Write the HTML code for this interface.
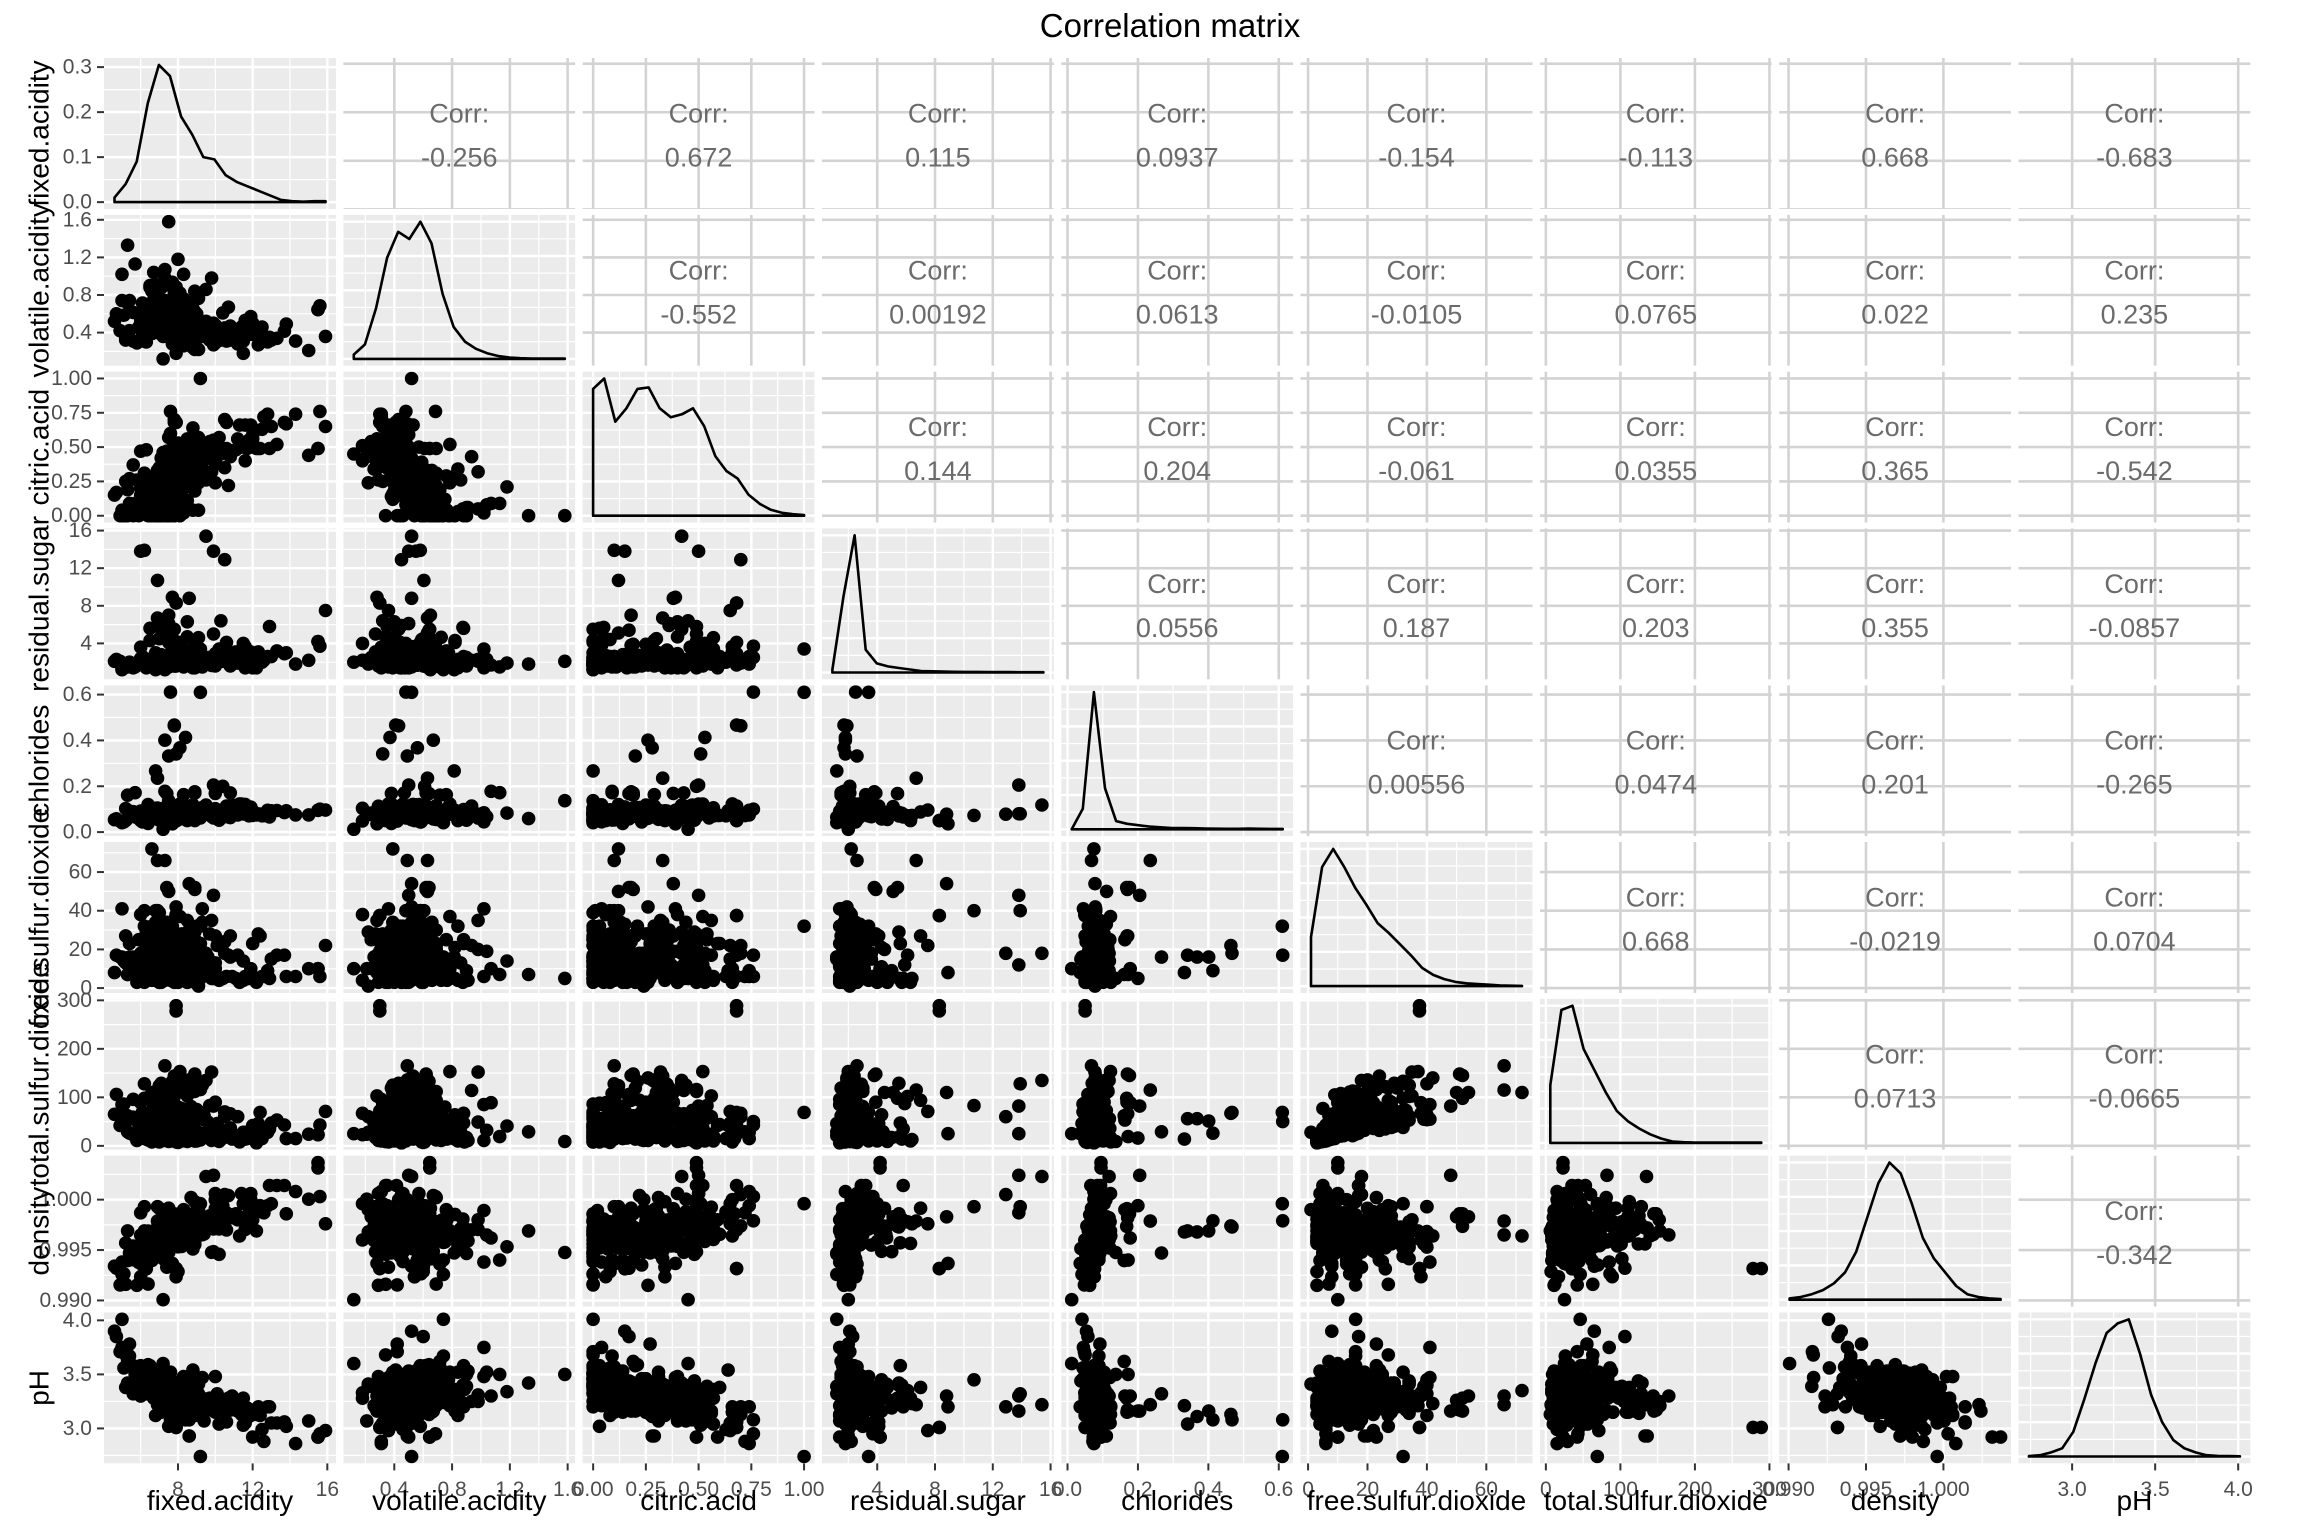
<!DOCTYPE html>
<html><head><meta charset="utf-8"><title>Correlation matrix</title>
<style>html,body{margin:0;padding:0;background:#fff}svg{display:block;font-family:"Liberation Sans",Arial,sans-serif}</style>
</head><body>
<svg id="chart" width="2304" height="1536" viewBox="0 0 2304 1536" xmlns="http://www.w3.org/2000/svg">
<rect x="0" y="0" width="2304" height="1536" fill="#fff"/>
<text x="1170" y="37" font-size="33" text-anchor="middle" fill="#000">Correlation matrix</text>
<g id="panels"></g>
</svg>
<script>
const varNames = ["fixed.acidity","volatile.acidity","citric.acid","residual.sugar","chlorides","free.sulfur.dioxide","total.sulfur.dioxide","density","pH"];
const varMin = [4.6,0.12,0,0.9,0.012,1,6,0.99007,2.74];
const varMax = [15.9,1.58,1,15.5,0.611,72,289,1.00369,4.01];
const tickValues = [[8,12,16],[0.4,0.8,1.2,1.6],[0,0.25,0.5,0.75,1],[4,8,12,16],[0,0.2,0.4,0.6],[0,20,40,60],[0,100,200,300],[0.99,0.995,1.0],[3,3.5,4]];
const tickLabels = [["8","12","16"],["0.4","0.8","1.2","1.6"],["0.00","0.25","0.50","0.75","1.00"],["4","8","12","16"],["0.0","0.2","0.4","0.6"],["0","20","40","60"],["0","100","200","300"],["0.990","0.995","1.000"],["3.0","3.5","4.0"]];
const densityTickValues = [0,0.1,0.2,0.3];
const densityTickLabels = ["0.0","0.1","0.2","0.3"];
const densityCurves = [
 [0.01,0.04,0.09,0.22,0.305,0.28,0.19,0.15,0.10,0.095,0.06,0.045,0.035,0.025,0.015,0.005,0.002,0.001,0.002,0.002],
 [0.03,0.10,0.35,0.70,0.88,0.83,0.95,0.80,0.45,0.22,0.12,0.07,0.04,0.02,0.01,0.005,0.003,0.003,0.002,0.002],
 [0.85,0.92,0.63,0.72,0.85,0.86,0.72,0.66,0.68,0.72,0.60,0.40,0.30,0.25,0.14,0.08,0.04,0.02,0.01,0.005],
 [0.02,0.50,0.90,0.15,0.06,0.04,0.03,0.02,0.01,0.008,0.006,0.005,0.004,0.004,0.003,0.003,0.003,0.002,0.002,0.002],
 [0.0,0.15,1.0,0.30,0.06,0.04,0.03,0.02,0.015,0.01,0.01,0.008,0.006,0.005,0.004,0.004,0.006,0.004,0.003,0.003],
 [0.35,0.85,0.98,0.85,0.70,0.58,0.45,0.38,0.30,0.22,0.13,0.08,0.05,0.03,0.02,0.015,0.01,0.005,0.003,0.002],
 [0.40,0.92,0.95,0.65,0.50,0.35,0.22,0.15,0.10,0.06,0.03,0.01,0.005,0.003,0.002,0.002,0.002,0.002,0.003,0.003],
 [0.01,0.02,0.04,0.07,0.12,0.20,0.35,0.60,0.85,1.0,0.92,0.70,0.45,0.30,0.20,0.10,0.04,0.02,0.01,0.005],
 [0.003,0.01,0.03,0.06,0.18,0.42,0.68,0.90,0.97,1.0,0.75,0.45,0.25,0.12,0.06,0.03,0.01,0.005,0.003,0.002]
];
const corrLabels = [
 ["-0.256","0.672","0.115","0.0937","-0.154","-0.113","0.668","-0.683"],
 ["-0.552","0.00192","0.0613","-0.0105","0.0765","0.022","0.235"],
 ["0.144","0.204","-0.061","0.0355","0.365","-0.542"],
 ["0.0556","0.187","0.203","0.355","-0.0857"],
 ["0.00556","0.0474","0.201","-0.265"],
 ["0.668","-0.0219","0.0704"],
 ["0.0713","-0.0665"],
 ["-0.342"]
];
const wineRows = [
[7.4,0.70,0.00,1.9,0.076,11,34,0.9978,3.51],[7.8,0.88,0.00,2.6,0.098,25,67,0.9968,3.20],[7.8,0.76,0.04,2.3,0.092,15,54,0.9970,3.26],
[11.2,0.28,0.56,1.9,0.075,17,60,0.9980,3.16],[7.4,0.66,0.00,1.8,0.075,13,40,0.9978,3.51],[7.9,0.60,0.06,1.6,0.069,15,59,0.9964,3.30],
[7.3,0.65,0.00,1.2,0.065,15,21,0.9946,3.39],[7.8,0.58,0.02,2.0,0.073,9,18,0.9968,3.36],[7.5,0.50,0.36,6.1,0.071,17,102,0.9978,3.35],
[6.7,0.58,0.08,1.8,0.097,15,65,0.9959,3.28],[5.6,0.615,0.00,1.6,0.089,16,59,0.9943,3.58],[7.8,0.61,0.29,1.6,0.114,9,29,0.9974,3.26],
[8.9,0.62,0.18,3.8,0.176,52,145,0.9986,3.16],[8.9,0.62,0.19,3.9,0.170,51,148,0.9986,3.17],[8.5,0.28,0.56,1.8,0.092,35,103,0.9969,3.30],
[8.1,0.56,0.28,1.7,0.368,16,56,0.9968,3.11],[7.4,0.59,0.08,4.4,0.086,6,29,0.9974,3.38],[7.9,0.32,0.51,1.8,0.341,17,56,0.9969,3.04],
[8.9,0.22,0.48,1.8,0.077,29,60,0.9968,3.39],[7.6,0.39,0.31,2.3,0.082,23,71,0.9982,3.52],[7.9,0.43,0.21,1.6,0.106,10,37,0.9966,3.17],
[8.5,0.49,0.11,2.3,0.084,9,67,0.9968,3.17],[6.9,0.40,0.14,2.4,0.085,21,40,0.9968,3.43],[6.3,0.39,0.16,1.4,0.080,11,23,0.9955,3.34],
[7.6,0.41,0.24,1.8,0.080,4,11,0.9962,3.28],[7.1,0.71,0.00,1.9,0.080,14,35,0.9972,3.47],[7.8,0.645,0.00,2.0,0.082,8,16,0.9964,3.38],
[6.7,0.675,0.07,2.4,0.089,17,82,0.9958,3.35],[6.9,0.685,0.00,2.5,0.105,22,37,0.9966,3.46],[8.3,0.655,0.12,2.3,0.083,15,113,0.9966,3.17],
[6.9,0.605,0.12,10.7,0.073,40,83,0.9993,3.45],[5.2,0.32,0.25,1.8,0.103,13,50,0.9957,3.38],[7.8,0.645,0.00,5.5,0.086,5,18,0.9986,3.40],
[7.8,0.60,0.14,2.4,0.086,3,15,0.9975,3.42],[8.1,0.38,0.28,2.1,0.066,13,30,0.9968,3.23],[5.7,1.13,0.09,1.5,0.172,7,19,0.9940,3.50],
[7.3,0.45,0.36,5.9,0.074,12,87,0.9978,3.33],[8.8,0.61,0.30,2.8,0.088,17,46,0.9976,3.26],[7.5,0.49,0.20,2.6,0.332,8,14,0.9968,3.21],
[8.1,0.66,0.22,2.2,0.069,9,23,0.9968,3.30],[4.6,0.52,0.15,2.1,0.054,8,65,0.9934,3.90],[7.7,0.935,0.43,2.2,0.114,22,114,0.9970,3.25],
[8.7,0.29,0.52,1.6,0.113,12,37,0.9969,3.25],[6.4,0.40,0.23,1.6,0.066,5,12,0.9958,3.34],[5.6,0.31,0.37,1.4,0.074,12,96,0.9954,3.32],
[8.8,0.66,0.26,1.7,0.074,4,23,0.9971,3.15],[6.6,0.52,0.04,2.2,0.069,8,15,0.9956,3.40],[6.6,0.50,0.04,2.1,0.068,6,14,0.9955,3.39],
[8.6,0.38,0.36,3.0,0.081,30,119,0.9970,3.20],[7.6,0.51,0.15,2.8,0.110,33,73,0.9955,3.17],[7.7,0.62,0.04,3.8,0.084,25,45,0.9978,3.34],
[10.2,0.42,0.57,3.4,0.070,4,10,0.9971,3.04],[7.5,0.63,0.12,5.1,0.111,50,110,0.9983,3.26],[7.8,0.59,0.18,2.3,0.076,17,54,0.9975,3.43],
[7.3,0.39,0.31,2.4,0.074,9,46,0.9962,3.41],[8.8,0.40,0.40,2.2,0.079,19,52,0.9980,3.44],[7.7,0.69,0.49,1.8,0.115,20,112,0.9968,3.21],
[7.0,0.735,0.05,2.0,0.081,13,54,0.9966,3.39],[7.2,0.725,0.05,4.65,0.086,4,11,0.9962,3.41],[6.6,0.705,0.07,1.6,0.076,6,15,0.9962,3.44],
[8.0,0.705,0.05,1.9,0.074,8,19,0.9962,3.34],[7.7,0.69,0.22,1.9,0.084,18,94,0.9961,3.31],[8.3,0.675,0.26,2.1,0.084,11,43,0.9976,3.31],
[9.7,0.32,0.54,2.5,0.094,28,83,0.9984,3.28],[8.8,0.41,0.64,2.2,0.093,9,42,0.9986,3.54],[6.8,0.785,0.00,2.4,0.104,14,30,0.9966,3.52],
[6.7,0.75,0.12,2.0,0.086,12,80,0.9958,3.38],[8.3,0.625,0.20,1.5,0.080,27,119,0.9972,3.16],[6.2,0.45,0.20,1.6,0.069,3,15,0.9958,3.41],
[7.8,0.43,0.70,1.9,0.464,22,67,0.9974,3.13],[7.4,0.50,0.47,2.0,0.086,21,73,0.9970,3.36],[7.3,0.67,0.26,1.8,0.401,16,51,0.9969,3.16],
[6.3,0.30,0.48,1.8,0.069,18,61,0.9959,3.44],[6.9,0.55,0.15,2.2,0.076,19,40,0.9961,3.41],[8.6,0.49,0.28,1.9,0.110,20,136,0.9972,2.93],
[7.7,0.49,0.26,1.9,0.062,9,31,0.9966,3.39],[9.3,0.39,0.44,2.1,0.107,34,125,0.9978,3.14],[7.0,0.62,0.08,1.8,0.076,8,24,0.9978,3.48],
[7.9,0.52,0.26,1.9,0.079,42,140,0.9964,3.23],[8.6,0.49,0.29,2.0,0.110,19,133,0.9972,2.93],[5.0,1.02,0.04,1.4,0.045,41,85,0.9938,3.75],
[4.7,0.60,0.17,2.3,0.058,17,106,0.9932,3.85],[6.8,0.775,0.00,3.0,0.102,8,23,0.9965,3.45],[7.0,0.50,0.25,2.0,0.070,3,22,0.9963,3.25],
[7.6,0.90,0.06,2.5,0.079,5,10,0.9967,3.39],[8.1,0.545,0.18,1.9,0.080,13,35,0.9972,3.30],[8.3,0.61,0.30,2.1,0.084,11,50,0.9972,3.40],
[7.8,0.50,0.30,1.9,0.075,8,22,0.9959,3.31],[8.1,0.575,0.22,2.1,0.077,12,65,0.9967,3.29],[7.2,0.49,0.24,2.2,0.070,5,36,0.9960,3.33],
[7.8,0.41,0.68,1.7,0.467,18,69,0.9973,3.08],[6.2,0.63,0.31,1.7,0.088,15,64,0.9969,3.46],[8.0,0.33,0.53,2.5,0.091,18,80,0.9976,3.37],
[8.1,0.785,0.52,2.0,0.122,37,153,0.9969,3.21],[7.8,0.56,0.19,1.8,0.104,12,47,0.9964,3.19],[8.4,0.62,0.09,2.2,0.084,11,108,0.9964,3.15],
[8.4,0.60,0.10,2.2,0.085,14,111,0.9964,3.15],[10.1,0.31,0.44,2.3,0.080,22,46,0.9988,3.32],[9.4,0.40,0.31,2.2,0.090,13,62,0.9966,3.07],
[8.3,0.54,0.28,1.9,0.077,11,40,0.9978,3.39],[7.8,0.56,0.12,2.0,0.082,7,28,0.9970,3.37],[8.8,0.55,0.04,2.2,0.119,14,56,0.9962,3.21],
[7.0,0.69,0.08,1.8,0.097,22,89,0.9959,3.34],[12.8,0.30,0.74,2.6,0.095,9,28,0.9994,3.20],[11.5,0.31,0.51,2.2,0.079,14,28,0.9982,3.03],
[13.3,0.34,0.52,3.2,0.094,17,53,1.0014,3.05],[12.0,0.50,0.59,1.4,0.073,23,42,0.9980,2.92],[15.9,0.36,0.65,7.5,0.096,22,71,0.9976,2.98],
[15.6,0.685,0.76,3.7,0.100,6,43,1.0003,2.95],[15.5,0.645,0.49,4.2,0.095,10,23,1.00315,2.92],[15.0,0.21,0.44,2.2,0.075,10,24,1.00005,3.07],
[14.3,0.31,0.74,1.8,0.075,6,15,1.0008,2.86],[13.7,0.415,0.68,2.9,0.085,17,43,1.0014,3.06],[12.5,0.46,0.63,2.0,0.071,6,15,0.9988,2.99],
[11.6,0.53,0.66,3.65,0.121,6,14,0.9978,3.05],[10.4,0.61,0.49,2.1,0.200,5,16,0.9994,3.16],[12.9,0.35,0.49,5.8,0.066,5,35,1.0014,3.20],
[10.8,0.32,0.44,1.6,0.063,16,37,0.9985,3.22],[11.9,0.57,0.50,2.6,0.082,6,32,1.0006,3.12],[12.4,0.35,0.49,2.6,0.079,27,69,0.9994,3.12],
[10.6,0.44,0.68,4.1,0.114,6,24,0.9970,3.06],[11.1,0.35,0.48,3.1,0.090,5,21,0.9986,3.17],[9.9,0.35,0.55,2.1,0.062,5,14,0.9971,3.26],
[10.0,0.38,0.38,1.6,0.169,27,90,0.9991,3.15],[10.3,0.32,0.45,6.4,0.073,5,13,0.9976,3.23],[9.2,0.52,1.00,3.4,0.610,32,69,0.9996,2.74],
[11.3,0.36,0.66,2.4,0.123,3,8,0.9964,3.20],[12.6,0.31,0.72,2.2,0.072,6,29,0.9987,2.88],[9.1,0.765,0.04,1.6,0.078,4,14,0.9980,3.29],
[7.9,0.30,0.68,8.3,0.050,37.5,278,0.99316,3.01],[7.9,0.30,0.68,8.3,0.050,37.5,289,0.99316,3.01],[5.4,0.74,0.09,1.7,0.089,16,26,0.99402,3.67],
[5.1,0.585,0.00,1.7,0.044,14,86,0.99264,3.56],[5.3,0.715,0.19,1.5,0.161,7,62,0.99395,3.62],[4.9,0.42,0.00,2.1,0.048,16,42,0.99154,3.71],
[5.0,0.74,0.00,1.2,0.041,16,46,0.99258,4.01],[5.2,0.34,0.00,1.8,0.050,27,63,0.9916,3.68],[6.0,0.50,0.04,2.2,0.092,13,26,0.99647,3.46],
[5.9,0.46,0.00,1.9,0.077,25,44,0.99385,3.50],[6.1,0.40,0.16,1.8,0.069,11,25,0.9955,3.42],[5.3,1.33,0.00,1.8,0.059,7,29,0.9969,3.42],
[7.5,1.58,0.00,2.1,0.137,5,9,0.99476,3.50],[6.7,1.04,0.08,2.3,0.067,19,32,0.99648,3.52],[8.0,1.18,0.21,1.9,0.083,14,41,0.99532,3.34],
[7.3,1.07,0.09,1.7,0.178,10,89,0.99620,3.30],[7.1,0.59,0.00,2.2,0.078,26,44,0.99522,3.42],[8.3,1.02,0.02,3.4,0.084,6,11,0.99892,3.48],
[6.6,0.61,0.00,1.6,0.069,4,8,0.99396,3.33],[11.5,0.18,0.51,4.0,0.104,4,23,0.9996,3.28],[9.8,0.98,0.32,2.3,0.078,35,152,0.9980,3.25],
[7.9,0.35,0.46,3.6,0.078,15,37,0.9973,3.35],[6.9,0.63,0.33,6.7,0.235,66,115,0.99787,3.22],[7.2,0.38,0.31,2.0,0.056,15,29,0.99472,3.23],
[6.8,0.48,0.08,1.8,0.074,40,64,0.99529,3.12],[7.5,0.38,0.57,2.3,0.106,5,12,0.99605,3.36],[6.8,0.67,0.00,1.9,0.080,22,39,0.99701,3.40],
[7.0,0.56,0.17,1.7,0.065,15,24,0.99514,3.44],[7.6,0.35,0.60,2.6,0.073,23,44,0.99656,3.38],[7.1,0.46,0.20,1.9,0.077,28,54,0.9956,3.37],
[6.6,0.84,0.03,2.3,0.059,32,48,0.9952,3.52],[7.4,0.36,0.34,1.8,0.075,18,38,0.9933,3.38],[6.0,0.58,0.20,2.4,0.075,15,50,0.99467,3.58],
[6.8,0.91,0.06,2.0,0.060,4,11,0.99592,3.53],[7.1,0.53,0.07,1.7,0.071,15,24,0.9951,3.29],[8.0,0.45,0.23,2.2,0.094,16,29,0.9962,3.21],
[6.4,0.57,0.12,2.3,0.120,25,36,0.99519,3.47],[6.8,0.62,0.08,1.9,0.068,28,38,0.99651,3.42],[6.4,0.64,0.21,1.8,0.081,14,31,0.99689,3.59],
[7.2,0.62,0.06,2.7,0.077,15,85,0.99746,3.51],[8.1,0.82,0.00,4.1,0.095,5,14,0.99854,3.36],[6.2,0.56,0.09,1.7,0.053,24,32,0.99402,3.54],
[7.0,0.60,0.30,4.5,0.068,20,110,0.99914,3.30],[7.5,0.52,0.11,1.5,0.079,11,39,0.99680,3.42],[8.9,0.84,0.34,1.4,0.050,4,10,0.99554,3.12],
[6.4,0.69,0.00,1.65,0.055,7,12,0.99162,3.47],[5.9,0.61,0.08,2.1,0.071,16,24,0.99376,3.56],[6.3,0.51,0.13,2.3,0.076,29,40,0.99574,3.42],
[7.4,0.64,0.17,5.4,0.168,52,98,0.99736,3.28],[11.6,0.475,0.40,1.4,0.091,6,28,0.99704,3.07],[9.1,0.40,0.57,4.6,0.080,6,20,0.99652,3.28],
[10.7,0.67,0.22,2.7,0.107,17,34,1.0004,3.28],[8.9,0.29,0.35,1.9,0.067,25,57,0.9970,3.18],[12.3,0.27,0.49,3.1,0.079,28,46,0.9993,3.20],
[10.9,0.39,0.47,1.8,0.118,6,14,0.9982,3.30],[12.0,0.38,0.56,2.1,0.093,6,24,0.99925,3.14],[10.2,0.34,0.48,2.1,0.052,5,9,0.99458,3.20],
[9.6,0.38,0.31,2.5,0.096,16,49,0.9982,3.19],[8.8,0.30,0.38,2.3,0.060,19,72,0.99543,3.39],[8.2,0.26,0.34,2.5,0.073,16,47,0.99594,3.40],
[7.8,0.50,0.17,1.6,0.082,21,102,0.9960,3.39],[10.5,0.43,0.35,3.3,0.092,24,70,0.99798,3.21],[9.0,0.785,0.24,1.7,0.078,10,21,0.99692,3.29],
[6.8,0.815,0.00,1.2,0.267,16,29,0.99471,3.32],[7.2,0.66,0.33,2.5,0.068,34,102,0.99414,3.27],[8.0,0.38,0.44,1.9,0.098,6,15,0.9956,3.30],
[6.1,0.715,0.10,2.6,0.053,13,27,0.99362,3.57],[9.9,0.27,0.49,5.0,0.082,9,17,0.99484,3.19],[7.3,0.585,0.18,2.4,0.078,15,60,0.99638,3.31],
[7.8,0.82,0.29,4.3,0.083,21,64,0.99642,3.16],[8.2,0.31,0.40,2.2,0.058,6,10,0.99536,3.31],[6.5,0.90,0.00,1.6,0.052,9,17,0.99467,3.50],
[5.8,0.29,0.26,1.7,0.063,3,11,0.9915,3.39],[6.0,0.31,0.47,3.6,0.067,18,42,0.99549,3.39],[7.9,0.18,0.40,2.2,0.049,38,67,0.9960,3.33],
[7.5,0.40,0.18,1.6,0.079,24,58,0.9965,3.34],[6.9,0.41,0.33,2.2,0.081,22,36,0.9949,3.41],[9.3,0.36,0.39,1.5,0.080,41,55,0.99652,3.47],
[7.7,0.28,0.39,8.9,0.036,8,25,0.99368,3.20],[7.0,0.50,0.14,1.8,0.078,10,23,0.99636,3.53],[6.6,0.56,0.14,2.4,0.064,13,29,0.99397,3.42],
[8.3,0.60,0.25,2.2,0.118,9,38,0.9960,3.15],[7.1,0.43,0.42,5.5,0.070,29,129,0.9973,3.42],[8.9,0.59,0.39,2.3,0.095,5,22,0.99860,3.37],
[9.2,0.43,0.49,2.4,0.086,23,116,0.9976,3.23],[11.9,0.43,0.66,3.1,0.109,10,23,1.0000,3.15],[7.0,0.54,0.00,2.1,0.079,39,55,0.9956,3.39],
[8.3,0.26,0.42,2.0,0.080,11,27,0.9974,3.21],[6.8,0.56,0.03,1.7,0.084,18,35,0.9968,3.44],[9.8,0.39,0.43,1.65,0.068,5,11,0.99478,3.19],
[6.2,0.46,0.29,2.1,0.074,32,98,0.99578,3.33],[8.7,0.48,0.30,2.8,0.066,10,28,0.99640,3.33],[7.4,0.47,0.46,2.2,0.114,7,20,0.99647,3.32],
[11.4,0.46,0.50,2.7,0.122,4,17,1.0006,3.13],[10.8,0.47,0.43,2.1,0.171,27,66,0.9982,3.17],[8.0,0.52,0.03,1.7,0.070,10,35,0.99575,3.34],
[13.0,0.32,0.65,2.6,0.093,15,47,0.9996,3.05],[11.8,0.38,0.55,2.1,0.071,5,19,0.9986,3.11],[6.5,0.88,0.03,5.6,0.079,23,47,0.99572,3.58],
[8.0,0.60,0.08,2.6,0.056,3,7,0.99286,3.22],[7.0,0.65,0.02,2.1,0.066,8,25,0.9972,3.47],[7.9,0.885,0.03,1.8,0.058,4,8,0.9972,3.36],
[13.8,0.49,0.67,3.0,0.093,6,15,0.9986,3.02],[6.9,0.52,0.25,2.6,0.081,10,37,0.99685,3.46],[9.5,0.86,0.26,1.9,0.079,13,28,0.99712,3.25],
[9.2,0.36,0.34,1.6,0.062,5,12,0.99667,3.20],[8.3,0.76,0.29,3.2,0.163,25,53,0.9990,3.30],[6.0,0.55,0.15,13.8,0.080,12,25,0.9987,3.30],
[6.2,0.58,0.10,13.9,0.080,40,128,0.9993,3.32],[9.5,0.52,0.42,15.4,0.118,18,135,1.0023,3.22],[10.5,0.45,0.70,12.9,0.078,18,60,1.0005,3.20],
[8.6,0.52,0.38,8.8,0.078,54,110,0.9983,3.30],[6.6,0.39,0.12,2.2,0.075,72,110,0.9964,3.35],[7.3,0.49,0.10,2.6,0.068,66,165,0.9965,3.30],
[7.6,0.48,0.76,2.5,0.611,17,50,0.9979,3.08],[8.4,0.37,0.53,1.8,0.413,9,26,0.9979,3.08],[7.2,0.12,0.45,2.0,0.012,10,25,0.99007,3.60],
[12.2,0.45,0.49,1.4,0.075,3,6,0.9969,3.13],[10.0,0.29,0.40,2.9,0.098,10,26,1.0006,3.48],[15.5,0.645,0.49,4.2,0.095,10,23,1.00369,2.92],
[8.1,0.73,0.00,2.5,0.081,12,24,0.99798,3.38],[7.1,0.875,0.05,5.7,0.082,3,14,0.99808,3.40],[9.1,0.22,0.24,2.1,0.078,1,28,0.9990,3.41],
[7.2,0.63,0.03,2.2,0.080,17,88,0.99745,3.53],[6.9,0.58,0.01,1.9,0.080,40,54,0.99683,3.40],[7.3,0.55,0.01,1.8,0.093,9,15,0.99514,3.35],
[7.0,0.58,0.12,1.9,0.091,34,124,0.99560,3.44],[8.2,0.57,0.26,2.2,0.060,28,65,0.99590,3.30],[7.7,0.51,0.28,2.1,0.087,23,54,0.99800,3.42],
[7.6,0.54,0.13,2.5,0.097,24,66,0.99785,3.39],[8.5,0.40,0.40,6.3,0.050,3,10,0.99566,3.28],[7.0,0.42,0.35,1.6,0.088,16,39,0.99610,3.34],
[8.7,0.54,0.26,2.5,0.097,7,31,0.99760,3.27],[6.4,0.38,0.14,2.2,0.038,15,25,0.99514,3.44],[7.4,0.52,0.13,2.4,0.078,34,61,0.99528,3.43],
[8.7,0.69,0.31,3.0,0.086,23,81,1.00020,3.48],[8.2,0.40,0.48,2.7,0.084,13,42,0.99800,3.20],[7.8,0.52,0.25,1.9,0.081,14,38,0.99840,3.43],
[6.8,0.64,0.10,2.1,0.085,18,101,0.99560,3.34],[7.6,0.42,0.25,3.9,0.104,28,90,0.99784,3.15],[8.2,0.44,0.24,2.3,0.063,10,28,0.99613,3.25],
[9.0,0.60,0.29,2.0,0.069,32,73,0.99654,3.34],[9.0,0.38,0.41,2.4,0.085,6,10,0.99824,3.27],[8.8,0.45,0.43,1.4,0.076,12,21,0.99510,3.21],
[7.1,0.46,0.14,2.8,0.076,15,54,0.99610,3.15],[6.9,0.48,0.20,1.9,0.082,9,23,0.99585,3.39],[7.5,0.58,0.03,4.1,0.080,27,46,0.99592,3.02],
[8.2,0.64,0.27,2.0,0.095,5,77,0.99747,3.13],[7.8,0.53,0.33,2.4,0.080,24,144,0.99655,3.30],[7.3,0.74,0.08,1.7,0.094,10,45,0.99576,3.24],
[6.7,0.46,0.24,1.7,0.077,18,34,0.99480,3.39],[9.0,0.45,0.49,2.6,0.084,21,75,0.99870,3.35],[8.2,0.50,0.35,2.9,0.077,21,127,0.99760,3.23],
[7.4,0.53,0.26,2.0,0.101,16,72,0.99570,3.15],[6.9,0.54,0.30,2.2,0.088,9,105,0.99725,3.25],[7.9,0.54,0.34,2.5,0.076,8,17,0.99235,3.20],
[9.3,0.43,0.44,1.9,0.085,9,22,0.99708,3.28],[6.5,0.67,0.00,4.3,0.057,11,20,0.99488,3.45],[8.5,0.34,0.40,4.7,0.055,3,9,0.99738,3.38],
[7.3,0.49,0.10,2.6,0.068,4,14,0.99562,3.30],[8.9,0.565,0.34,3.0,0.093,16,112,0.99980,3.38],[10.0,0.48,0.24,2.7,0.102,13,32,1.00000,3.28],
[8.2,0.635,0.10,2.1,0.073,25,60,0.99638,3.29],[7.2,0.36,0.46,2.1,0.074,24,44,0.99534,3.40],[9.0,0.47,0.31,2.7,0.084,24,125,0.99840,3.31],
[8.0,0.59,0.16,1.8,0.065,3,16,0.99620,3.42],[7.0,0.59,0.00,1.7,0.052,3,8,0.99600,3.41],[7.3,0.48,0.32,2.1,0.062,31,54,0.99728,3.30],
[6.9,0.44,0.00,1.4,0.070,32,38,0.99438,3.32],[8.9,0.48,0.53,4.0,0.101,3,10,0.99586,3.21],[7.6,0.43,0.29,2.1,0.075,19,66,0.99718,3.40],
[9.9,0.50,0.50,13.8,0.205,48,82,1.00242,3.16],[8.0,0.705,0.05,1.9,0.074,8,19,0.99620,3.34],[10.6,0.31,0.49,2.5,0.067,6,21,0.99870,3.26],
[7.7,0.64,0.21,2.2,0.077,32,133,0.99560,3.27],[8.4,0.52,0.22,2.7,0.084,4,18,0.99682,3.26],[6.2,0.56,0.09,1.7,0.053,24,32,0.99402,3.54],
[7.1,0.68,0.00,2.3,0.087,17,26,0.99783,3.45],[6.0,0.54,0.06,1.8,0.050,38,89,0.99236,3.30],[6.8,0.59,0.10,1.7,0.063,34,53,0.99580,3.41],
[8.6,0.47,0.47,2.4,0.074,7,29,0.99790,3.08],[6.1,0.58,0.23,2.5,0.044,16,70,0.99352,3.46],[7.3,0.98,0.05,2.1,0.061,20,49,0.99705,3.31],
[9.1,0.50,0.30,1.9,0.065,8,17,0.99774,3.32],[7.5,0.65,0.18,7.0,0.088,27,94,0.99915,3.38],[8.8,0.24,0.54,2.5,0.083,25,57,0.99830,3.39],
[6.7,0.46,0.24,1.7,0.077,18,34,0.99480,3.39],[11.7,0.49,0.49,2.2,0.083,5,15,1.00000,3.19],[7.6,0.69,0.00,2.0,0.080,30,70,0.99680,3.25],
[5.4,0.42,0.27,2.0,0.092,23,55,0.99471,3.78],[6.3,0.55,0.15,1.8,0.077,26,35,0.99314,3.32],[8.0,0.42,0.32,2.5,0.080,26,122,0.99801,3.22]
];

const svgNS = "http://www.w3.org/2000/svg";
const root = document.getElementById('panels');
const PL = 104, PW = 232, SX = 239.3, PT = 58, PH = 151, SY = 156.8, N = 9;
function el(tag, attrs, parent){ const e=document.createElementNS(svgNS,tag); for(const k in attrs) e.setAttribute(k,attrs[k]); (parent||root).appendChild(e); return e; }
function scaleX(j, v){ const lo=varMin[j], hi=varMax[j], pad=(hi-lo)*0.05; return PL + j*SX + (v-(lo-pad))/((hi-lo)+2*pad)*PW; }
function scaleY(i, v){ const lo=varMin[i], hi=varMax[i], pad=(hi-lo)*0.05; return PT + i*SY + PH - (v-(lo-pad))/((hi-lo)+2*pad)*PH; }
function dScaleY(i, v, dmax){ const lo=-0.05*dmax, hi=1.05*dmax; return PT + i*SY + PH - (v-lo)/(hi-lo)*PH; }
function minors(ticks){ const st = ticks.length>1 ? ticks[1]-ticks[0] : 1; const out=[ticks[0]-st/2]; ticks.forEach(t=>out.push(t+st/2)); return out; }
function extendTicks(ticks){ const st = ticks[1]-ticks[0]; return [ticks[0]-st].concat(ticks, [ticks[ticks.length-1]+st]); }

for(let i=0;i<N;i++){
  for(let j=0;j<N;j++){
    const x0 = PL + j*SX, y0 = PT + i*SY;
    const g = el('g', {});
    
    
    const clipId = 'clip'+i+'_'+j;
    const cp = el('clipPath', {id: clipId}, g);
    el('rect', {x:x0, y:y0, width:PW, height:PH}, cp);
    const inner = el('g', {'clip-path':'url(#'+clipId+')'}, g);
    const dmax = Math.max.apply(null, densityCurves[i]);
    const yTicks = (i===j) ? (i===0 ? densityTickValues : [0,0.25*dmax,0.5*dmax,0.75*dmax,dmax]) : tickValues[i];
    const yMap = (i===j) ? (v=>dScaleY(i,v,dmax)) : (v=>scaleY(i,v));
    if(i<j){
      const bg = el('rect', {x:x0, y:y0, width:PW, height:PH, fill:'#ffffff'}, inner);
      
      
      extendTicks(tickValues[j]).forEach(t=>{ const x=scaleX(j,t); el('line',{x1:x,x2:x,y1:y0,y2:y0+PH,stroke:'#d3d3d3','stroke-width':2.6},inner); });
      extendTicks(tickValues[i]).forEach(t=>{ const y=scaleY(i,t); el('line',{x1:x0,x2:x0+PW,y1:y,y2:y,stroke:'#d3d3d3','stroke-width':2.6},inner); });
      const cx = x0+PW/2, cy = y0+PH/2;
      const t1 = el('text', {x:cx, y:cy-20, 'font-size':27, fill:'#6b6b6b','text-anchor':'middle','dominant-baseline':'central'}, g);
      t1.textContent = 'Corr:';
      
      
      const t2 = el('text', {x:cx, y:cy+24, 'font-size':27, fill:'#6b6b6b','text-anchor':'middle','dominant-baseline':'central'}, g);
      t2.textContent = corrLabels[i][j-i-1];
      
      
    } else {
      const bg = el('rect', {x:x0, y:y0, width:PW, height:PH, fill:'#ebebeb'}, inner);
      
      
      minors(tickValues[j]).forEach(t=>{ const x=scaleX(j,t); el('line',{x1:x,x2:x,y1:y0,y2:y0+PH,stroke:'#fff','stroke-width':1.2},inner); });
      minors(yTicks).forEach(t=>{ const y=yMap(t); el('line',{x1:x0,x2:x0+PW,y1:y,y2:y,stroke:'#fff','stroke-width':1.2},inner); });
      tickValues[j].forEach(t=>{ const x=scaleX(j,t); el('line',{x1:x,x2:x,y1:y0,y2:y0+PH,stroke:'#fff','stroke-width':2.4},inner); });
      yTicks.forEach(t=>{ const y=yMap(t); el('line',{x1:x0,x2:x0+PW,y1:y,y2:y,stroke:'#fff','stroke-width':2.4},inner); });
      if(i===j){
        const arr = densityCurves[i];
        const n = arr.length;
        let d = 'M'+scaleX(j,varMin[j]).toFixed(1)+','+dScaleY(i,0,dmax).toFixed(1);
        arr.forEach((v,k)=>{ const xv = varMin[j] + (varMax[j]-varMin[j])*k/(n-1); d += ' L'+scaleX(j,xv).toFixed(1)+','+dScaleY(i,v,dmax).toFixed(1); });
        d += ' L'+scaleX(j,varMax[j]).toFixed(1)+','+dScaleY(i,0,dmax).toFixed(1)+' Z';
        const p = el('path', {d:d, fill:'none', stroke:'#000','stroke-width':2.6,'stroke-linejoin':'round'}, inner);
        
        
      } else {
        const pts = el('g', {fill:'#000'}, inner);
        
        
        wineRows.forEach(r=>{
          const c = el('circle', {cx:scaleX(j,r[j]).toFixed(1), cy:scaleY(i,r[i]).toFixed(1), r:6.8}, pts);
          
          
        });
      }
    }
    if(j===0){
      const labs = (i===0) ? densityTickLabels : tickLabels[i];
      const vals = (i===0) ? densityTickValues : tickValues[i];
      vals.forEach((t,k)=>{
        const y = (i===0) ? dScaleY(0,t,dmax) : scaleY(i,t);
        if(y < y0-2 || y > y0+PH+2) return;
        el('line',{x1:PL-7,x2:PL,y1:y,y2:y,stroke:'#333','stroke-width':2});
        const tl = el('text',{x:PL-12,y:y,'font-size':21,fill:'#4d4d4d','text-anchor':'end','dominant-baseline':'central'});
        tl.textContent = labs[k];
        
        
      });
      const cy = y0+PH/2;
      const st = el('text',{x:39,y:cy,'font-size':28,fill:'#000','text-anchor':'middle','dominant-baseline':'central',transform:'rotate(-90 39 '+cy+')'});
      st.textContent = varNames[i];
      
      
    }
    if(i===N-1){
      const yb = y0+PH;
      tickValues[j].forEach((t,k)=>{
        const x = scaleX(j,t);
        if(x < x0-2 || x > x0+PW+2) return;
        el('line',{x1:x,x2:x,y1:yb,y2:yb+7,stroke:'#333','stroke-width':2});
        const tl = el('text',{x:x,y:yb+26,'font-size':21,fill:'#4d4d4d','text-anchor':'middle','dominant-baseline':'central'});
        tl.textContent = tickLabels[j][k];
        
        
      });
      const st = el('text',{x:x0+PW/2,y:1510,'font-size':28,fill:'#000','text-anchor':'middle'});
      st.textContent = varNames[j];
      
      
    }
  }
}
</script>
</body></html>
